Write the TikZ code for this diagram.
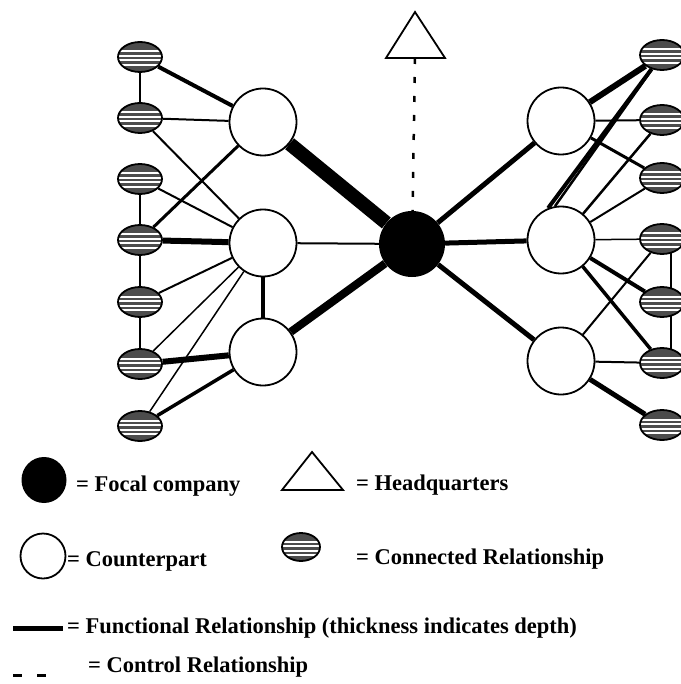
\documentclass[tikz,border=0pt]{standalone}
\usepackage{fontspec}
\setmainfont{Liberation Serif}
\usetikzlibrary{shapes.geometric,backgrounds}

\tikzset{
  rel/.style={ellipse,draw,line width=1.8pt,fill=black!70,minimum width=44pt,
    minimum height=30pt,inner sep=0,
    path picture={\foreach \k in {-8,-3.5,1,5.5}
      {\draw[white,line width=2pt] ([yshift=\k pt]path picture bounding box.west)
        -- ([yshift=\k pt]path picture bounding box.east);}}},
  cpart/.style={circle,draw,line width=1.8pt,fill=white,minimum size=67pt,inner sep=0},
  focal/.style={circle,fill=black,minimum size=66pt,inner sep=0},
  lbl/.style={anchor=base west,inner sep=0,font=\fontsize{22.5}{25}\selectfont\bfseries}
}

\begin{document}
\begin{tikzpicture}[x=1pt,y=-1pt]
\useasboundingbox (0,0) rectangle (680,684);

% headquarters
\draw[line width=1.8pt] (415,12) -- (445,58) -- (386,58) -- cycle;
\coordinate (hq) at (415,58);

\node[focal] (f) at (412,244) {};
\node[cpart] (cl1) at (263,122) {};
\node[cpart] (cl2) at (263,243) {};
\node[cpart] (cl3) at (263,352) {};
\node[cpart] (cr1) at (561,121) {};
\node[cpart] (cr2) at (561,240) {};
\node[cpart] (cr3) at (561,361) {};

\foreach \i/\y in {1/57,2/118,3/179,4/240,5/302,6/364,7/426}
  \node[rel] (l\i) at (140,\y) {};
\foreach \i/\y in {1/55,2/120,3/178,4/239,5/302,6/363,7/425}
  \node[rel] (r\i) at (662,\y) {};

\begin{scope}[on background layer]
% control
\draw[line width=2.5pt,dash pattern=on 6pt off 13pt] (hq) -- (f);
% focal company
\draw[line width=14pt] (f) -- (cl1);
\draw[line width=2pt] (f) -- (cl2);
\draw[line width=8pt] (f) -- (cl3);
\draw[line width=5pt] (f) -- (cr1);
\draw[line width=5pt] (f) -- (cr2);
\draw[line width=5pt] (f) -- (cr3);
% left side
\draw[line width=4pt] (l1) -- (cl1);
\draw[line width=2pt] (l2) -- (cl1);
\draw[line width=2pt] (l2) -- (cl2);
\draw[line width=2pt] (l3) -- (cl2);
\draw[line width=3pt] (l4) -- (cl1);
\draw[line width=6pt] (l4) -- (cl2);
\draw[line width=2pt] (l5) -- (cl2);
\draw[line width=1.5pt] (l6) -- (cl2);
\draw[line width=1.5pt] (l7) -- (cl2);
\draw[line width=6pt] (l6) -- (cl3);
\draw[line width=3.5pt] (l7) -- (cl3);
\draw[line width=4pt] (cl2) -- (cl3);
\draw[line width=2pt] (l1) -- (l2);
\draw[line width=2pt] (l3) -- (l4);
\draw[line width=2.5pt] (l4) -- (l5);
\draw[line width=2pt] (l5) -- (l6);
% right side
\draw[line width=6pt] (cr1) -- (r1);
\draw[line width=2pt] (cr1) -- (r2);
\draw[line width=3pt] (cr1) -- (r3);
\draw[line width=4pt] (cr2.112) -- (r1);
\draw[line width=2.5pt] (cr2.100) -- (r1.235);
\draw[line width=2.5pt] (cr2) -- (r2);
\draw[line width=2pt] (cr2) -- (r3);
\draw[line width=1.5pt] (cr2) -- (r4);
\draw[line width=4pt] (cr2) -- (r5);
\draw[line width=3.5pt] (cr2) -- (r6);
\draw[line width=2pt] (cr3) -- (r4);
\draw[line width=2pt] (cr3) -- (r6);
\draw[line width=5pt] (cr3) -- (r7);
\draw[line width=2pt] (r4.east) ++(-14,0) coordinate (r4b) -- (r4b |- r6.center);
\end{scope}

% key
\node[ellipse,fill=black,minimum width=45pt,minimum height=46pt] (kf) at (44,480) {};
\node[lbl] (kf-t) at (76,491) {= Focal company};
\draw[line width=1.8pt] (312,452) -- (343,490) -- (282,490) -- cycle;
\node[lbl] (kh-t) at (356,490) {= Headquarters};
\node[cpart,minimum size=45pt] (kc) at (43,556) {};
\node[lbl] (kc-t) at (67,566) {= Counterpart};
\node[rel,minimum width=38pt,minimum height=28pt] (kr) at (301,547) {};
\node[lbl] (kr-t) at (356,564) {= Connected Relationship};
\draw[line width=5pt] (13,628) -- (63,628);
\node[lbl] (kl-t) at (67,633) {= Functional Relationship (thickness indicates depth)};
\draw[line width=3pt,dash pattern=on 9pt off 15pt] (13,675) -- (46,675);
\node[lbl] (kd-t) at (88,672) {= Control Relationship};
\end{tikzpicture}
\end{document}
